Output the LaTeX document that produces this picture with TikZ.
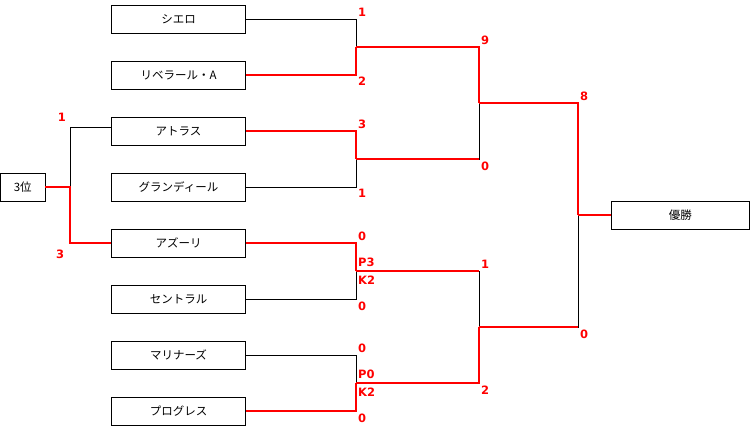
\documentclass[tikz,border=0pt]{standalone}
\usepackage{fontspec}
\usepackage{tikz}
\usetikzlibrary{positioning,calc}
\newfontfamily\jpfont{Noto Sans CJK JP}
\newfontfamily\scorefont{DejaVu Sans}
\definecolor{winred}{RGB}{255,0,0}

\begin{document}
\begin{tikzpicture}[
    x=1pt, y=-1pt,
    team/.style={draw, line width=0.8pt, minimum width=134pt,
                 minimum height=28pt, inner sep=0pt,
                 font=\jpfont\fontsize{11.5}{12}\selectfont},
    score/.style={anchor=west, inner sep=0pt, text=winred,
                  font=\scorefont\bfseries\fontsize{11.5}{12}\selectfont},
    lose/.style={draw, line width=0.8pt, black},
    win/.style={draw, line width=2pt, winred},
]
\useasboundingbox (0,0) rectangle (750,431);

% Teams
\foreach \id/\y/\name in {1/19/シエロ, 2/75/リベラール・A, 3/131/アトラス,
    4/187/グランディール, 5/243/アズーリ, 6/299/セントラル,
    7/355/マリナーズ, 8/411/プログレス}
{
    \node[team] (t\id) at (178.5,\y) {\name};
}
\node[team, minimum width=44.5pt] (third) at (22.75,187) {3位};
\node[team, minimum width=138.5pt] (champ) at (680.25,215) {優勝};

% Junctions
\coordinate (a1) at (356,47);
\coordinate (a2) at (356,159);
\coordinate (a3) at (356,271);
\coordinate (a4) at (356,383);
\coordinate (b1) at (479,103);
\coordinate (b2) at (479,327);
\coordinate (c1) at (578,215);
\coordinate (p3) at (70,187);

% Losing sides
\draw[lose] (t1.east) -| (a1);
\draw[lose] (t4.east) -| (a2);
\draw[lose] (t6.east) -| (a3);
\draw[lose] (t7.east) -| (a4);
\draw[lose] (a2) -| (b1);
\draw[lose] (a3) -| (b2);
\draw[lose] (b2) -| (c1);
\draw[lose] (p3) |- ([yshift=4pt]t3.west);

% Winning sides
\draw[win] (t2.east) -| (a1);
\draw[win] (t3.east) -| (a2);
\draw[win] (t5.east) -| (a3);
\draw[win] (t8.east) -| (a4);
\draw[win] (a1) -| (b1);
\draw[win] (a4) -| (b2);
\draw[win] (a2) -- (a2 -| b1);
\draw[win] (a3) -- (a3 -| b2);
\draw[win] (b1) -| (c1);
\draw[win] (b2) -- (b2 -| c1);
\draw[win] (c1) -- (champ.west);
\draw[win] (third.east) -- (p3) |- (t5.west);

% Scores
\foreach \x/\y/\s in {358/12/1, 358/81/2, 358/124/3, 358/193/1,
    358/236/0, 358/262/P3, 358/280/K2, 358/306/0,
    358/348/0, 358/374/P0, 358/392/K2, 358/418/0,
    481/40/9, 481/166/0, 481/264/1, 481/390/2,
    580/96/8, 580/334/0}
{
    \node[score] at (\x,\y) {\s};
}
\node[score, anchor=center] at (62,117) {1};
\node[score, anchor=center] at (60,254) {3};

\end{tikzpicture}
\end{document}
